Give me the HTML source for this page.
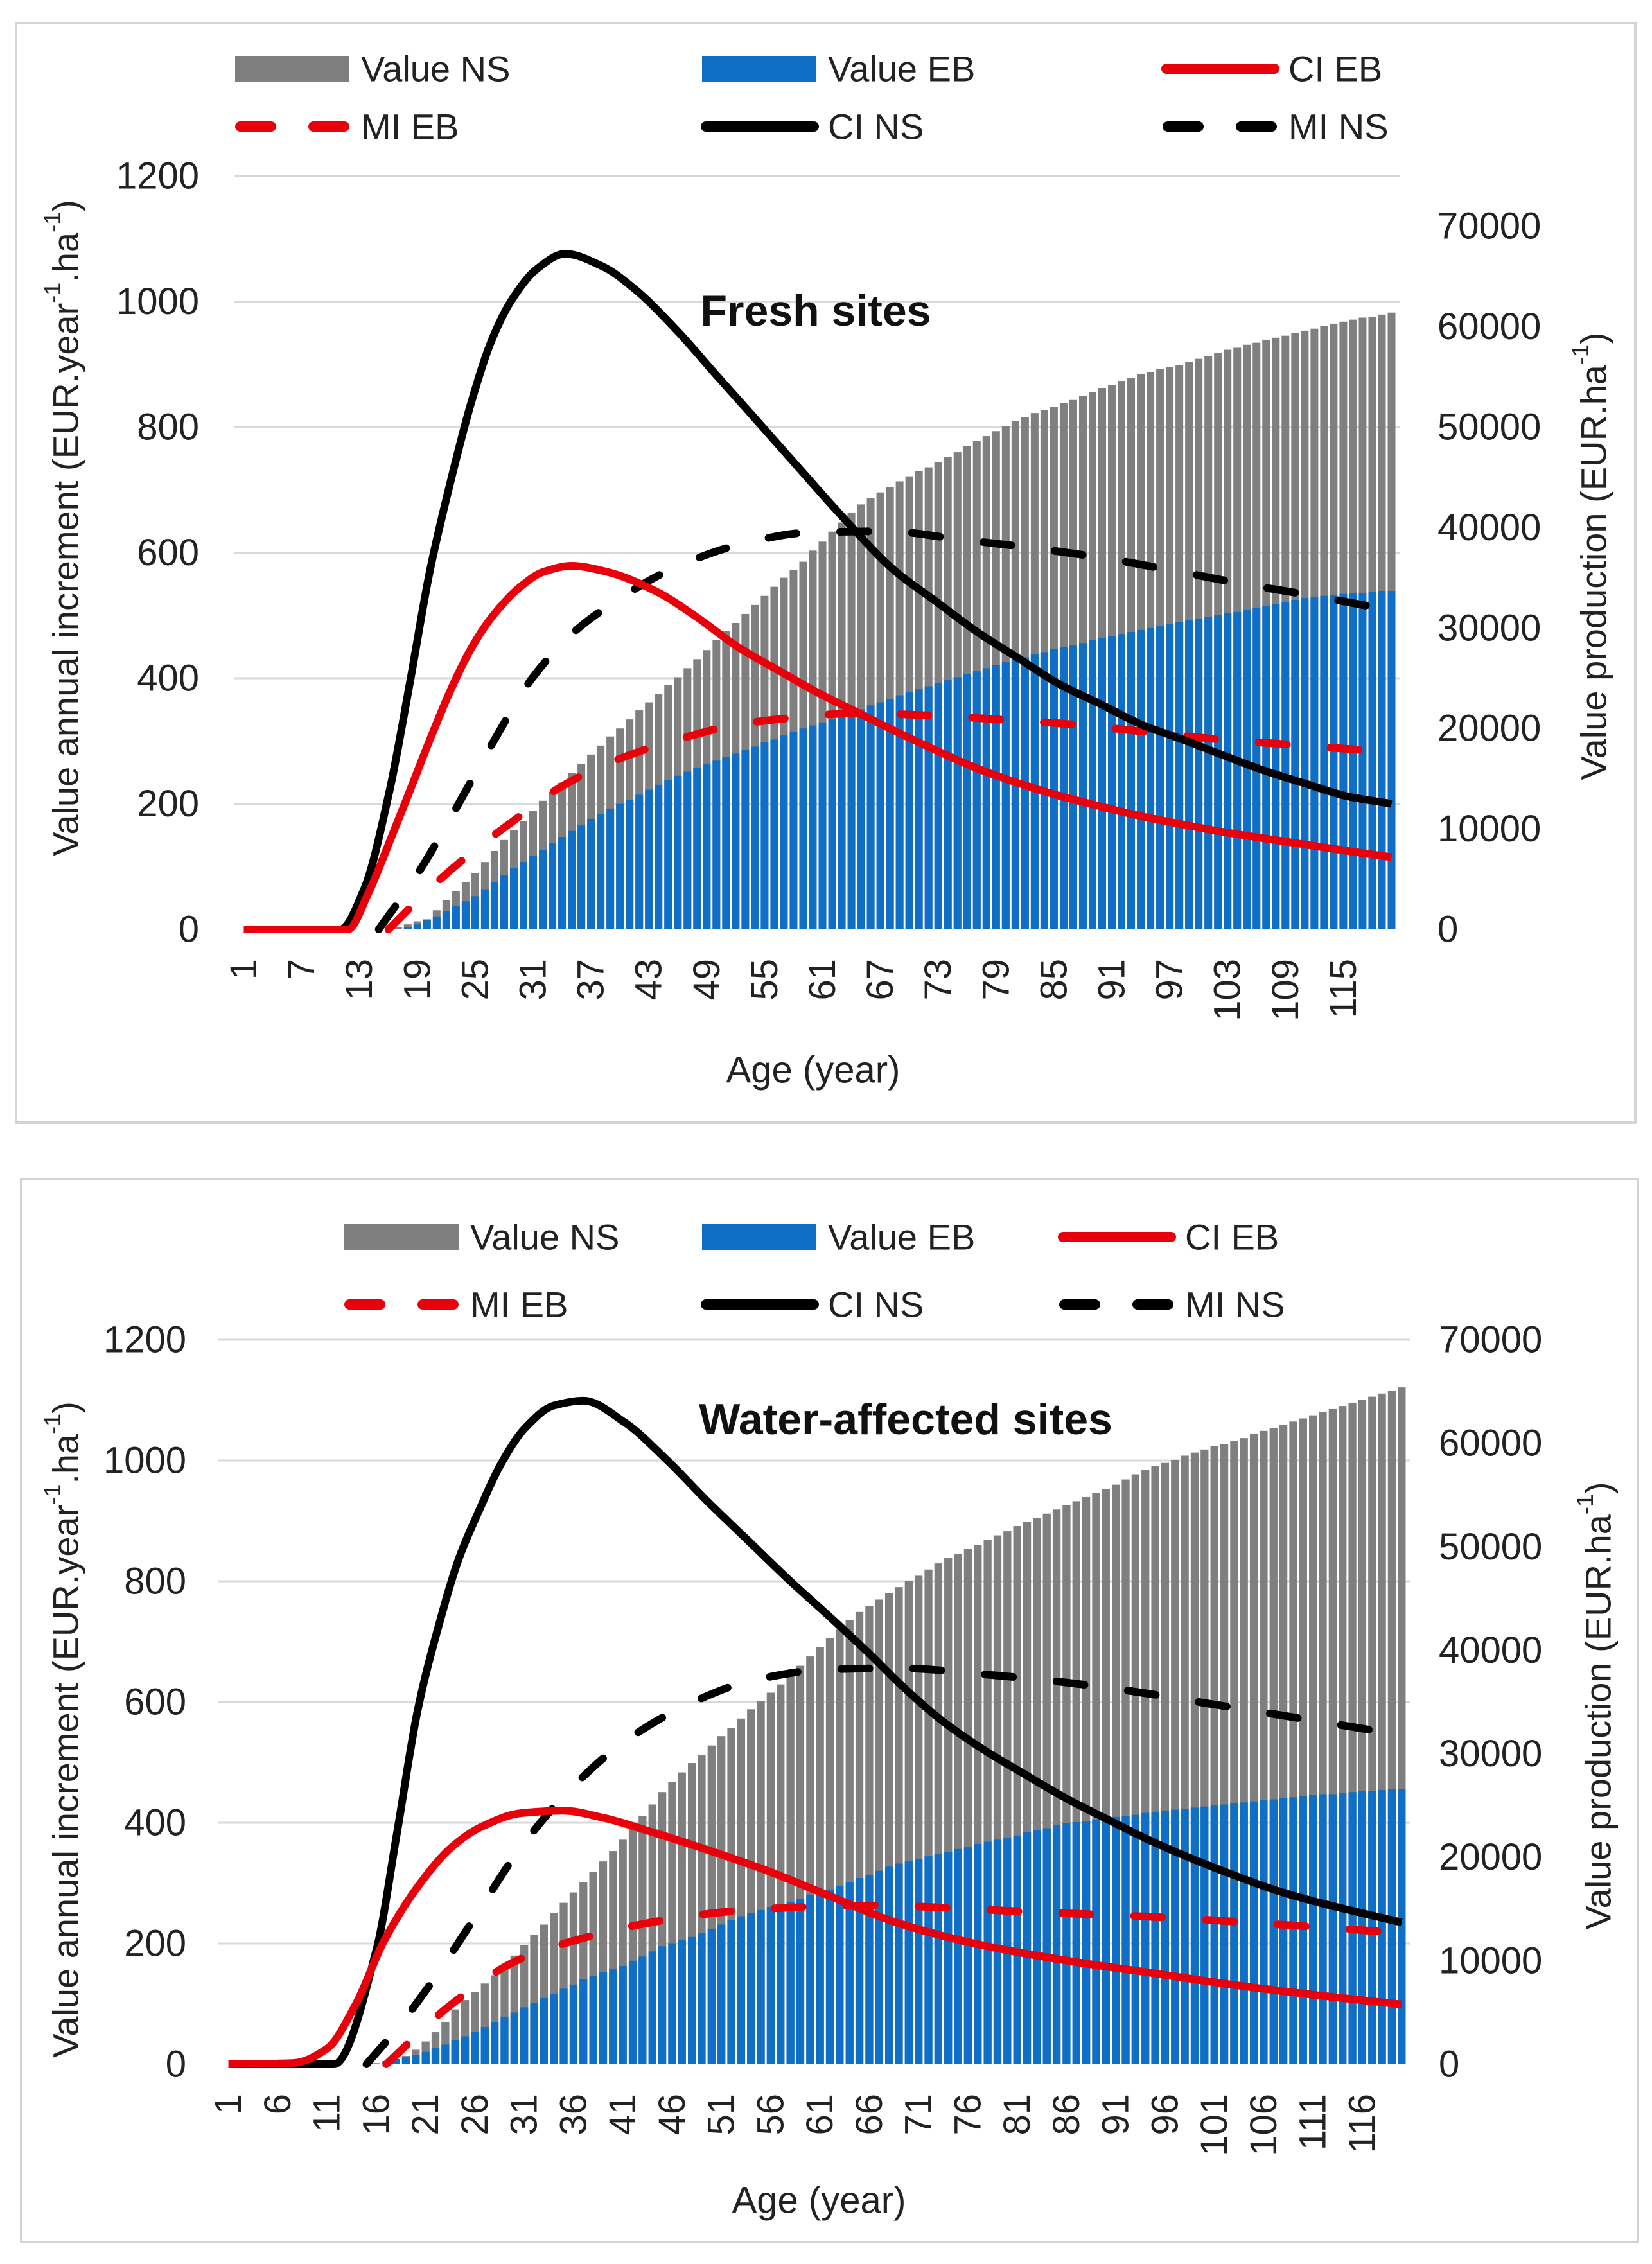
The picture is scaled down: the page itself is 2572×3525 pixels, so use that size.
<!DOCTYPE html>
<html><head><meta charset="utf-8"><style>
html,body{margin:0;padding:0;background:#fff;}
svg{display:block;font-family:"Liberation Sans",Arial,sans-serif;}
</style></head><body>
<svg id="fig" xmlns="http://www.w3.org/2000/svg" width="2572" height="3525" viewBox="0 0 2572 3525"></svg>
<script>
// ===== Chart 1: Fresh sites =====
const ages = Array.from({length:120},(_,i)=>i+1);
const f_valueNS = [0,0,0,0,0,0,0,0,0,0,0,0,0,0,0,0,0.2,0.5,0.8,1.0,1.9,2.9,3.8,4.7,5.6,6.7,7.8,8.9,9.9,10.8,11.8,12.8,13.7,14.6,15.6,16.5,17.4,18.3,19.2,20.0,20.9,21.8,22.6,23.4,24.3,25.1,26.0,26.9,27.8,28.8,29.7,30.5,31.4,32.3,33.2,34.1,35.0,35.8,36.6,37.7,38.6,39.6,40.5,41.5,42.3,42.9,43.5,44.0,44.6,45.1,45.6,46.0,46.5,47.0,47.5,48.1,48.6,49.1,49.6,50.1,50.6,51.0,51.4,51.7,52.0,52.4,52.7,53.1,53.5,53.9,54.2,54.6,54.9,55.3,55.5,55.8,56.0,56.2,56.5,56.8,57.1,57.4,57.7,57.9,58.2,58.4,58.7,58.9,59.1,59.4,59.6,59.8,60.1,60.3,60.5,60.7,60.9,61.0,61.2,61.4];
const f_valueEB = [0,0,0,0,0,0,0,0,0,0,0,0,0,0,0,0,0,0.2,0.5,0.9,1.3,1.8,2.3,2.8,3.3,4.0,4.7,5.4,6.1,6.7,7.3,7.9,8.6,9.2,9.8,10.4,11.0,11.5,12.0,12.5,12.9,13.4,13.9,14.4,14.9,15.3,15.7,16.1,16.5,16.8,17.2,17.5,17.9,18.2,18.6,18.9,19.3,19.7,20.0,20.3,20.6,20.9,21.2,21.6,21.9,22.3,22.6,22.9,23.3,23.6,23.9,24.2,24.5,24.8,25.1,25.4,25.7,26.0,26.3,26.6,26.9,27.1,27.4,27.6,27.9,28.1,28.3,28.5,28.8,29.0,29.2,29.4,29.6,29.8,30.0,30.2,30.4,30.6,30.8,30.9,31.1,31.3,31.5,31.6,31.8,32.0,32.2,32.4,32.6,32.8,33.0,33.1,33.2,33.3,33.4,33.5,33.5,33.6,33.7,33.7];
const f_ciNS_age = [1,11,13.5,16.1,18.2,20.3,22.5,24.6,26.7,28.8,31.4,34.3,38.2,41.6,45.9,50.1,54.4,58.6,62.9,68.5,72.8,77.1,81.3,85.5,89.8,94.1,98.4,102.6,106.8,111.1,115.4,120];
const f_ciNS = [0,0,65,220,391,571,717,840,938,1003,1052,1076,1056,1019,954,881,807,734,660,571,522,473,432,391,359,326,302,277,253,232,212,200];
const f_ciEB_age = [1,11.8,13.9,16.1,18.2,20.3,22.5,24.6,26.7,29.7,32,35,38.5,43.8,48,52.2,56.5,60.4,64.3,68.5,72.8,77.1,81.3,85.5,89.8,94.1,98.4,102.6,106.8,111.1,115.4,120];
const f_ciEB = [0,0,57,139,220,302,383,448,497,546,569,579,570,538,497,450,412,378,348,316,285,256,233,213,196,180,167,155,145,135,125,115];
const f_miNS_age = [15,19.1,22.5,26.7,30.9,35.2,39.5,45,52.2,59.5,67.7,75.3,83,90.3,97.5,104.7,112.4,120];
const f_miNS = [0,90,179,294,400,473,522,571,612,632,634,621,607,591,571,550,530,508];
const f_miEB_age = [16,20.3,24.6,28.8,34,39.5,45.9,52.2,58.6,64.3,71.9,79.6,87.3,94.9,102.6,109.8,117.5,120];
const f_miEB = [0,65,122,171,228,269,302,326,338,344,341,334,326,314,302,294,285,282];

// ===== Chart 2: Water-affected sites =====
const w_valueNS = [0,0,0,0,0,0,0,0,0,0,0,0,0,0,0,0,0.1,0.3,0.8,1.4,2.2,3.1,4.1,5.3,6.2,7.0,7.8,8.6,9.5,10.5,11.5,12.5,13.5,14.6,15.6,16.6,17.6,18.6,19.6,20.6,21.7,22.8,24.0,25.1,26.3,27.3,28.2,29.1,29.9,30.8,31.7,32.5,33.4,34.3,35.1,35.9,36.7,37.6,38.5,39.4,40.3,41.2,42.0,42.9,43.7,44.3,44.9,45.5,46.1,46.7,47.2,47.8,48.4,48.9,49.3,49.8,50.2,50.7,51.1,51.5,52.0,52.4,52.8,53.2,53.6,54.0,54.4,54.8,55.2,55.6,56.0,56.5,57.0,57.4,57.8,58.1,58.4,58.8,59.1,59.4,59.7,59.9,60.2,60.5,60.9,61.2,61.5,61.8,62.1,62.4,62.7,63.0,63.3,63.6,63.9,64.2,64.5,64.8,65.1,65.4];
const w_valueEB = [0,0,0,0,0,0,0,0,0,0,0,0,0,0,0,0.1,0.3,0.5,0.7,0.9,1.2,1.6,1.9,2.3,2.7,3.1,3.6,4.1,4.6,5.0,5.5,5.9,6.4,6.8,7.3,7.7,8.2,8.5,8.9,9.2,9.5,10.0,10.4,10.9,11.4,11.7,12.0,12.3,12.7,13.1,13.5,13.9,14.3,14.6,14.9,15.2,15.4,15.7,16.0,16.4,16.7,16.9,17.2,17.6,18.0,18.3,18.7,19.1,19.4,19.6,19.8,20.1,20.3,20.5,20.8,21.0,21.3,21.5,21.7,21.9,22.1,22.4,22.6,22.8,23.1,23.3,23.4,23.5,23.6,23.7,23.9,24.0,24.1,24.3,24.4,24.5,24.6,24.7,24.8,24.9,25.0,25.1,25.2,25.3,25.4,25.5,25.6,25.7,25.8,25.9,26.0,26.1,26.1,26.2,26.3,26.4,26.4,26.5,26.6,26.6];
const w_ciNS_age = [1,11.7,16,18.1,20.2,22.3,24.4,26.5,28.6,31.1,34,37,41.2,45.4,49.6,53.8,58,62.2,66,69.1,73.3,77.5,81.7,85.9,90.1,94.3,98.5,102.7,106.9,111.1,115.3,120];
const w_ciNS = [0,0,189,384,587,725,839,920,993,1054,1091,1099,1063,1002,932,866,800,738,680,630,570,522,481,441,406,372,342,315,290,270,253,235];
const w_ciEB_age = [1,7.6,11,13.9,16.8,20.2,23.6,26.5,30.7,34.9,39.1,43.3,49.6,55.9,61.5,69.1,77.5,85.9,94.3,102.7,111.1,120];
const w_ciEB = [0,2,26,99,205,294,359,392,416,420,408,388,355,319,282,233,197,172,152,132,115,99];
const w_miNS_age = [15,18.1,21.8,26.1,30.3,35.3,40.8,47.5,54.2,61.7,69.1,77.5,85.1,92.6,100.2,107.4,114.9,120];
const w_miNS = [0,59,140,246,351,449,530,595,636,654,656,646,634,618,598,579,559,545];
const w_miEB_age = [17,23.6,30.3,37,44.6,52.5,62.2,67,75.4,82.9,90.9,98.5,106.1,113.6,120];
const w_miEB = [0,99,172,209,237,254,262,263,258,252,247,241,233,225,217];

const leftTicks = [0,200,400,600,800,1000,1200];
const rightTicks = [0,10000,20000,30000,40000,50000,60000,70000];

const NS = "http://www.w3.org/2000/svg";
const svg = document.getElementById('fig');
function mk(tag, attrs, parent){
  const e = document.createElementNS(NS, tag);
  for (const k in attrs) e.setAttribute(k, attrs[k]);
  (parent||svg).appendChild(e);
  return e;
}
function monoPath(pts){
  const n = pts.length;
  const dx = [], m = [], t = new Array(n);
  for (let i=0;i<n-1;i++){ dx.push(pts[i+1][0]-pts[i][0]); m.push((pts[i+1][1]-pts[i][1])/dx[i]); }
  t[0]=m[0]; t[n-1]=m[n-2];
  for (let i=1;i<n-1;i++){
    if (m[i-1]*m[i] <= 0) t[i]=0;
    else { const w1=2*dx[i]+dx[i-1], w2=dx[i]+2*dx[i-1]; t[i]=(w1+w2)/(w1/m[i-1]+w2/m[i]); }
  }
  let d = "M"+pts[0][0].toFixed(1)+","+pts[0][1].toFixed(1);
  for (let i=0;i<n-1;i++){
    const h = dx[i]/3;
    d += " C"+(pts[i][0]+h).toFixed(1)+","+(pts[i][1]+t[i]*h).toFixed(1)+" "+(pts[i+1][0]-h).toFixed(1)+","+(pts[i+1][1]-t[i+1]*h).toFixed(1)+" "+pts[i+1][0].toFixed(1)+","+pts[i+1][1].toFixed(1);
  }
  return d;
}

function drawChart(c){
  const g = mk('g', {});
  
  
  const frame = mk('rect', {x:c.frame[0], y:c.frame[1], width:c.frame[2]-c.frame[0], height:c.frame[3]-c.frame[1], fill:'#fff', stroke:'#d4d4d4', 'stroke-width':4}, g);
  
  
  const cw = (c.x1 - c.x0)/120;
  const xOf = a => c.x0 + (a-0.5)*cw;
  const yL = v => c.y0 - v/1200*(c.y0 - c.y1);
  const yR = v => c.y0 - v/c.rmax*(c.y0 - c.y1);
  leftTicks.forEach(t=>{
    if (t>0){
      const gl = mk('line', {x1:c.x0-8, x2:c.x1+6, y1:yL(t), y2:yL(t), stroke:'#d9d9d9', 'stroke-width':3}, g);
      
      
    }
    const tx = mk('text', {x:c.lx, y:yL(t), 'text-anchor':'end', 'dominant-baseline':'central', 'font-size':58, fill:'#222'}, g);
    tx.textContent = t;
    
    
  });
  rightTicks.forEach(t=>{
    const tx = mk('text', {x:c.rx, y:yR(t/1000), 'text-anchor':'start', 'dominant-baseline':'central', 'font-size':58, fill:'#222'}, g);
    tx.textContent = t;
    
    
  });
  const bw = cw*0.8;
  ages.forEach((a,i)=>{
    const v = c.ns[i];
    if (v>0){
      const r = mk('rect', {x:xOf(a)-bw/2, y:yR(v), width:bw, height:c.y0-yR(v), fill:'#7f7f7f'}, g);
      
      
    }
  });
  ages.forEach((a,i)=>{
    const v = c.eb[i];
    if (v>0){
      const r = mk('rect', {x:xOf(a)-bw/2, y:yR(v), width:bw, height:c.y0-yR(v), fill:'#0f6fc6'}, g);
      
      
    }
  });
  const lines = [
    {n:'line-mi-ns', a:c.miNSa, v:c.miNS, col:'#000', dash:true},
    {n:'line-mi-eb', a:c.miEBa, v:c.miEB, col:'#e8000b', dash:true},
    {n:'line-ci-ns', a:c.ciNSa, v:c.ciNS, col:'#000', dash:false},
    {n:'line-ci-eb', a:c.ciEBa, v:c.ciEB, col:'#e8000b', dash:false}
  ];
  lines.forEach(L=>{
    const pts = L.a.map((a,i)=>[xOf(a), yL(L.v[i])]);
    const at = {d:monoPath(pts), fill:'none', stroke:L.col, 'stroke-width':12, 'stroke-linejoin':'round'};
    if (L.dash){ at['stroke-dasharray']='44 68'; at['stroke-linecap']='round'; }
    const p = mk('path', at, g);
    
    
  });
  for (let a=1; a<=120; a+=c.step){
    const x = xOf(a);
    const tx = mk('text', {x:x, y:c.y0+46, 'text-anchor':'end', 'dominant-baseline':'central', 'font-size':58, fill:'#222', transform:'rotate(-90 '+x+' '+(c.y0+46)+')'}, g);
    tx.textContent = a;
    
    
  }
  const lt = mk('text', {x:c.ltx, y:c.lty, 'text-anchor':'middle', 'dominant-baseline':'central', 'font-size':56, fill:'#222', transform:'rotate(-90 '+c.ltx+' '+c.lty+')'}, g);
  lt.innerHTML = 'Value annual increment (EUR.year<tspan baseline-shift="super" font-size="36">-1</tspan>.ha<tspan baseline-shift="super" font-size="36">-1</tspan>)';
  
  
  const rt = mk('text', {x:c.rtx, y:c.rty, 'text-anchor':'middle', 'dominant-baseline':'central', 'font-size':56, fill:'#222', transform:'rotate(-90 '+c.rtx+' '+c.rty+')'}, g);
  rt.innerHTML = 'Value production (EUR.ha<tspan baseline-shift="super" font-size="36">-1</tspan>)';
  
  
  const xt = mk('text', {x:c.xtx, y:c.xty, 'text-anchor':'middle', 'dominant-baseline':'central', 'font-size':58, fill:'#222'}, g);
  xt.textContent = 'Age (year)';
  
  
  const tt = mk('text', {x:c.tx, y:c.ty, 'text-anchor':'middle', 'dominant-baseline':'central', 'font-size':68, 'font-weight':'bold', fill:'#111'}, g);
  tt.textContent = c.title;
  
  
  const lg = mk('g', {}, g);
  
  
  const items = [
    {t:'Value NS', k:'box', col:'#7f7f7f', col0:0, row:0},
    {t:'Value EB', k:'box', col:'#0f6fc6', col0:1, row:0},
    {t:'CI EB', k:'line', col:'#e8000b', col0:2, row:0},
    {t:'MI EB', k:'dash', col:'#e8000b', col0:0, row:1},
    {t:'CI NS', k:'line', col:'#000', col0:1, row:1},
    {t:'MI NS', k:'dash', col:'#000', col0:2, row:1}
  ];
  items.forEach(it=>{
    const sx = c.lgx[it.col0], y = c.lgy[it.row];
    const eg = mk('g', {}, lg);
    
    
    if (it.k==='box') mk('rect', {x:sx, y:y-20, width:178, height:40, fill:it.col}, eg);
    else if (it.k==='line') mk('line', {x1:sx+6, x2:sx+174, y1:y, y2:y, stroke:it.col, 'stroke-width':16, 'stroke-linecap':'round'}, eg);
    else { mk('line', {x1:sx+8, x2:sx+56, y1:y, y2:y, stroke:it.col, 'stroke-width':16, 'stroke-linecap':'round'}, eg);
           mk('line', {x1:sx+122, x2:sx+170, y1:y, y2:y, stroke:it.col, 'stroke-width':16, 'stroke-linecap':'round'}, eg); }
    const tx = mk('text', {x:sx+196, y:y, 'dominant-baseline':'central', 'font-size':56, fill:'#222'}, eg);
    tx.textContent = it.t;
  });
}

drawChart({id:'fresh', title:'Fresh sites', frame:[25,36,2546,1748],
  x0:372, x1:2174, y0:1447, y1:274, rmax:75, lx:310, rx:2238, step:6,
  ltx:102, lty:822, rtx:2481, rty:866, xtx:1266, xty:1666, tx:1270, ty:484,
  lgx:[366,1093,1810], lgy:[107,197],
  ns:f_valueNS, eb:f_valueEB, ciNSa:f_ciNS_age, ciNS:f_ciNS, ciEBa:f_ciEB_age, ciEB:f_ciEB,
  miNSa:f_miNS_age, miNS:f_miNS, miEBa:f_miEB_age, miEB:f_miEB});
drawChart({id:'water', title:'Water-affected sites', frame:[33,1836,2550,3491],
  x0:348, x1:2190, y0:3214, y1:2086, rmax:70, lx:290, rx:2240, step:5,
  ltx:102, lty:2693, rtx:2488, rty:2656, xtx:1275, xty:3426, tx:1410, ty:2210,
  lgx:[536,1093,1649], lgy:[1926,2031],
  ns:w_valueNS, eb:w_valueEB, ciNSa:w_ciNS_age, ciNS:w_ciNS, ciEBa:w_ciEB_age, ciEB:w_ciEB,
  miNSa:w_miNS_age, miNS:w_miNS, miEBa:w_miEB_age, miEB:w_miEB});
</script>
</body></html>
